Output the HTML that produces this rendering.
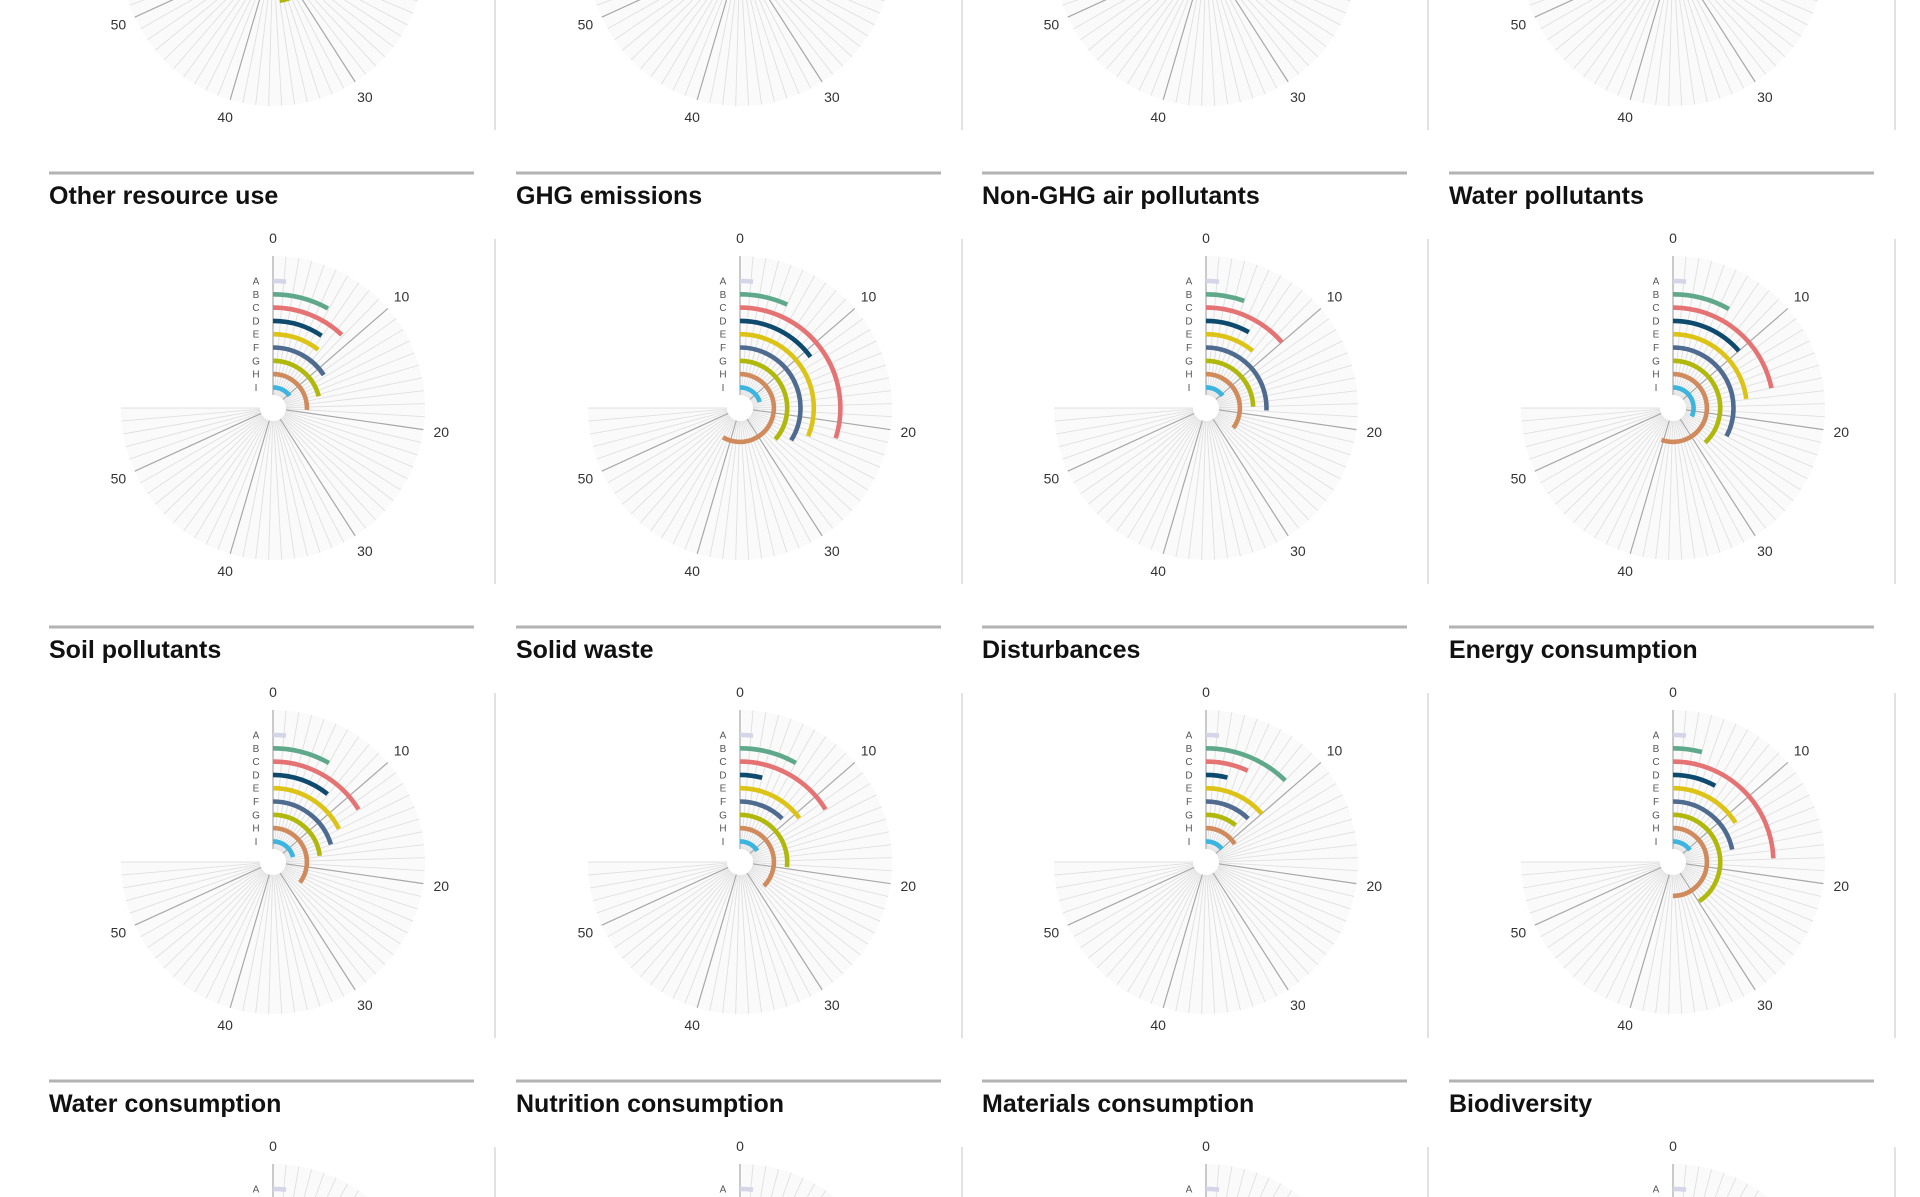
<!DOCTYPE html>
<html><head><meta charset="utf-8"><style>
html,body{margin:0;padding:0;background:#fff;width:1920px;height:1197px;overflow:hidden;}
svg{display:block;}
</style></head><body>
<svg id="chart" width="1920" height="1197" viewBox="0 0 1920 1197" xmlns="http://www.w3.org/2000/svg"></svg>
<script>
const categories = ['A','B','C','D','E','F','G','H','I'];
const seriesColors = ['#d5d5e8','#5fa889','#e57373','#0d4a6e','#dcc316','#4f6b8f','#b0b80c','#d08a5c','#3bb5e0'];
const axisTicks = [0,10,20,30,40,50];
const axisMax = 55;
const chartTitles = ['', '', '', '',
  'Other resource use','GHG emissions','Non-GHG air pollutants','Water pollutants',
  'Soil pollutants','Solid waste','Disturbances','Energy consumption',
  'Water consumption','Nutrition consumption','Materials consumption','Biodiversity'];
const valuesTop1 = [1.2, 6, 9, 7, 8, 12, 35, 18, 10];
const valuesTop2 = [1.2, 6, 10, 8, 9, 12, 15, 18, 11];
const valuesTop3 = [1.2, 5, 9, 8, 10, 11, 14, 17, 10];
const valuesTop4 = [1.2, 6, 10, 7, 9, 12, 16, 19, 12];
const valuesOtherResource = [1.2, 5.9, 8.8, 6.9, 7.7, 11.6, 15.4, 19, 10.9];
const valuesGhg = [1.2, 5.0, 21.9, 11, 22.9, 24.9, 26.8, 42.8, 14.9];
const valuesNonGhg = [1.2, 4.0, 10.0, 6.0, 8.0, 18.8, 18.0, 25.7, 10.9];
const valuesWaterPoll = [1.2, 6.0, 16.0, 10.0, 16.9, 24.0, 27.9, 40.7, 23.3];
const valuesSoil = [1.2, 6.0, 11.9, 7.9, 12.9, 14.9, 16.8, 25.9, 15.5];
const valuesSolidWaste = [1.2, 6.0, 11.9, 3.0, 10.9, 9.0, 19.6, 27.5, 11.6];
const valuesDisturbances = [1.2, 9.0, 5.0, 2.9, 10.0, 9.0, 7.9, 11.8, 10.4];
const valuesEnergy = [1.2, 3.0, 17.9, 5.9, 11.8, 15.9, 29.8, 36.7, 11.2];
const valuesWaterCons = [1.2, 7.0, 12, 8, 11, 14, 18, 24, 12];
const valuesNutrition = [1.2, 7.0, 11, 7, 10, 13, 17, 22, 11];
const valuesMaterials = [1.2, 7.0, 12, 8, 10, 14, 19, 25, 12];
const valuesBiodiversity = [1.2, 7.0, 13, 9, 11, 15, 20, 26, 13];
const allValues = [valuesTop1,valuesTop2,valuesTop3,valuesTop4,
  valuesOtherResource,valuesGhg,valuesNonGhg,valuesWaterPoll,
  valuesSoil,valuesSolidWaste,valuesDisturbances,valuesEnergy,
  valuesWaterCons,valuesNutrition,valuesMaterials,valuesBiodiversity];

const NS='http://www.w3.org/2000/svg';
const svg=document.getElementById('chart');
const colLefts=[49,516,982,1449];
const rowRules=[-281,173,627,1081];
const outerR=152, innerR=13, ringOuter=127, ringStep=13.3;
const degPerUnit=270/axisMax;
function angle(v){return v*degPerUnit*Math.PI/180;}
function pt(cx,cy,r,v){const a=angle(v);return [cx+r*Math.sin(a), cy-r*Math.cos(a)];}
function ringR(i){return ringOuter-i*ringStep;}
function mk(tag,attrs,parent){const e=document.createElementNS(NS,tag);for(const k in attrs)e.setAttribute(k,attrs[k]);(parent||svg).appendChild(e);return e;}

for(let row=0;row<4;row++){
  for(let col=0;col<4;col++){
    const idx=row*4+col;
    const x0=colLefts[col], rule=rowRules[row];
    const cx=x0+224, cy=rule+235;
    const g=mk('g',{});
    
    
    const ruleLine=mk('rect',{x:x0,y:rule-1.5,width:425,height:3,fill:'#b3b3b3'},g);
    
    
    if(chartTitles[idx]){
      const t=mk('text',{x:x0,y:rule+31,'font-family':'Liberation Sans, sans-serif','font-size':'25','font-weight':'bold',fill:'#111'},g);
      t.textContent=chartTitles[idx];
      
      
    }
    const div=mk('line',{x1:x0+446,y1:rule+66,x2:x0+446,y2:rule+411,stroke:'#d8d8d8','stroke-width':1.5},g);
    
    
    const [ex,ey]=pt(cx,cy,outerR,axisMax);
    const fan=mk('path',{d:`M${cx},${cy} L${cx},${cy-outerR} A${outerR},${outerR} 0 1 1 ${ex},${ey} Z`,fill:'#fafafb'},g);
    
    
    for(let u=0;u<=axisMax;u++){
      const major=(u%10===0);
      const [x1,y1]=pt(cx,cy,innerR,u),[x2,y2]=pt(cx,cy,outerR,u);
      const s=mk('line',{x1,y1,x2,y2,stroke:major?'#a8a8a8':'#e0e0e0','stroke-width':major?1.2:0.9},g);
      
      
    }
    mk('circle',{cx,cy,r:innerR,fill:'#fff'},g);
    axisTicks.forEach(v=>{
      const [tx,ty]=pt(cx,cy,170,v);
      const t=mk('text',{x:tx,y:ty+5,'text-anchor':'middle','font-family':'Liberation Sans, sans-serif','font-size':'14',fill:'#333'},g);
      t.textContent=v;
      
      
    });
    const vals=allValues[idx];
    categories.forEach((c,i)=>{
      const r=ringR(i);
      const lt=mk('text',{x:cx-17,y:cy-r+3.5,'text-anchor':'middle','font-family':'Liberation Sans, sans-serif','font-size':'10',fill:'#555'},g);
      lt.textContent=c;
      
      
      const v=vals[i];
      const [ax,ay]=pt(cx,cy,r,v);
      const large=angle(v)>Math.PI?1:0;
      const arc=mk('path',{d:`M${cx},${cy-r} A${r},${r} 0 ${large} 1 ${ax},${ay}`,fill:'none',stroke:seriesColors[i],'stroke-width':4.6},g);
      
      
    });
  }
}
</script>
</body></html>
